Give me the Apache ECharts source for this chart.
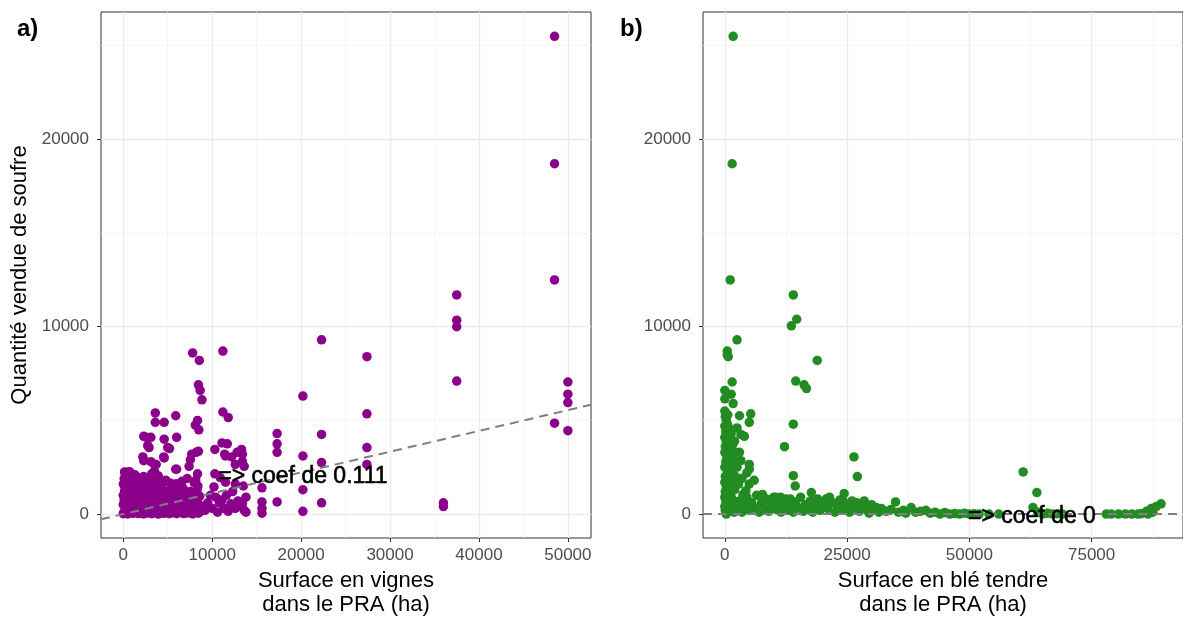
<!DOCTYPE html>
<html>
<head>
<meta charset="utf-8">
<script src="https://cdn.jsdelivr.net/npm/echarts@6/dist/echarts.min.js"></script>
<style>
  html, body { margin: 0; background: #fff; }
  #chart { width: 1183px; height: 622px; }
</style>
</head>
<body>
<div id="chart"></div>
<script>
// ---- data ----
const yTicks = [0, 10000, 20000];
const vigneTicks = [0, 10000, 20000, 30000, 40000, 50000];
const bleTicks = [0, 25000, 50000, 75000];

const yRange = [-1276, 26800];
const vigneRange = [-2505, 52600];
const bleRange = [-4460, 93680];

const vigneCoef = 0.111;
const bleCoef = 0;
const vigneNote = "=> coef de 0.111";
const bleNote = "=> coef de 0";
const vigneNotePos = [20200, 2000];
const bleNotePos = [62800, -150];

// a) surface en vignes vs soufre
const vignesPoints = [
  [48500,25500],[48500,18700],[48500,12500],[48500,4850],
  [37500,11700],[37500,10350],[37500,10000],[37500,7100],
  [50000,7050],[50000,6400],[50000,5950],[50000,4450],
  [36000,600],[36000,400],
  [22300,9300],[22300,4250],[22300,2750],[22300,600],
  [20200,6300],[20200,3100],[20200,1300],[20200,150],
  [27400,8400],[27400,5350],[27400,3550],[27400,2650],
  [17300,4300],[17300,3750],[17300,3300],[17300,650],
  [15600,1400],[15600,650],[15600,300],[15600,50],
  [10300,3450],[11100,3800],[11700,3750],[12800,3300],[13300,3450],[13400,3200],[11400,3200],
  [12200,3050],[13400,2800],[12600,2650],[13600,2550],[11500,3100],[11200,5450],[11800,5150],[11200,8700],
  [9200,200],[9500,600],[9800,1000],[10000,300],[10200,1450],[10400,900],[10600,100],[10800,600],
  [11100,750],[11300,300],[11600,1000],[11800,150],[12100,550],[12300,1200],[12600,300],[12900,700],
  [13200,450],[13400,550],[13600,200],[13800,900],[13800,100],[13500,1500],
  [10300,2150],[10900,1950],[11500,1700],[12600,1600],
  [7800,8600],[8550,8200],[8450,6900],[8650,6600],[8850,6100],
  [3600,5400],[5900,5250],[3600,4900],[4600,4900],[8100,4750],[8350,5000],[8500,4500],
  [2300,4150],[3100,4100],[4600,4000],[6000,4100],[2600,4100],
  [2750,3650],[2900,3550],[5000,3550],[5200,3500],
  [2200,3050],[2300,2850],[3100,2800],[3700,2650],[4550,3050],[4600,3000],[7700,3200],[7550,2900],
  [7400,2550],[8450,3350],[8200,3300],
  [6000,2400],[3500,2300],[3900,2050],[3500,2650],[150,2250],[700,2250],[520,2230],[1650,1900],
  [3300,2150],[8350,2150],[8150,1800],[5900,1600],[5900,2400],
  [0,20],[120,150],[250,60],[380,260],[500,10],[650,180],[800,90],[950,310],[1100,40],[1250,220],
  [1400,120],[1550,350],[1700,30],[1850,200],[2000,100],[2150,280],[2300,10],[2450,170],[2600,330],
  [2750,60],[2900,240],[3050,130],[3200,20],[3350,300],[3500,150],[3650,70],[3800,260],[3950,0],
  [4100,190],[4250,90],[4400,320],[4550,40],[4700,210],[4850,120],[5000,280],[5150,20],[5300,160],
  [5450,60],[5600,250],[5800,110],[6000,20],[6200,200],[6400,80],[6600,300],[6800,30],[7000,170],
  [7200,60],[7400,240],[7600,120],[7800,10],[8000,180],[8200,280],[8450,50],[8700,150],
  [0,500],[100,750],[200,600],[350,850],[500,450],[600,680],[750,550],[900,820],[1050,480],[1200,700],
  [1350,900],[1500,560],[1650,780],[1800,430],[1950,650],[2100,880],[2250,520],[2400,720],[2550,460],
  [2700,840],[2850,600],[3000,760],[3150,420],[3300,650],[3450,900],[3600,540],[3750,720],[3900,450],
  [4050,860],[4200,620],[4350,500],[4500,780],[4700,430],[4900,680],[5100,880],[5300,520],[5500,740],
  [5700,450],[5900,620],[6100,850],[6300,480],[6500,700],[6700,560],[6900,420],[7100,800],[7300,600],
  [7500,470],[7700,720],[7900,520],[8100,850],[8300,620],[8600,480],
  [0,1000],[150,1250],[300,1100],[450,1400],[600,950],[800,1200],[1000,1450],[1150,1050],[1300,1300],
  [1500,1000],[1700,1350],[1900,1150],[2100,1450],[2300,980],[2500,1250],[2700,1100],[2900,1400],
  [3100,1000],[3300,1200],[3500,1480],[3700,1050],[3900,1300],[4100,1150],[4300,1420],[4500,980],
  [4800,1200],[5100,1050],[5400,1350],[5700,1000],[6000,1250],[6300,1100],[6700,1400],[7100,1000],
  [7500,1200],[7900,1050],[8300,1300],[8600,950],
  [0,1600],[100,1900],[200,2200],[400,1750],[600,2050],[700,2250],[900,1600],[1100,1850],[1300,2100],
  [1500,1650],[1700,1950],[2000,1700],[2300,2000],[2600,1600],[2900,1900],[3200,2150],[3600,1700],
  [4000,1950],[4400,1600],[4800,1800],[5300,1650],[6000,1600],[6600,1750],[7200,1900],[8000,1650],[8400,1500]
];

// b) surface en blé tendre vs soufre
const blePoints = [
  [1700,25500],[1500,18700],[1100,12500],[14000,11700],[14700,10400],[13600,10050],[2500,9300],
  [500,8700],[500,8500],[700,8400],[18900,8200],[1500,7050],[14500,7100],[16200,6900],[16700,6700],
  [0,6600],[1300,6400],[0,6150],[1700,5900],[3000,5250],[5300,5350],[5000,4900],[14000,4800],
  [12200,3600],[26400,3050],[27100,2000],[14000,2050],[14400,1500],
  [0,5500],[100,5200],[300,5000],[0,4700],[200,4400],[500,4800],[0,4100],[300,3900],[100,3600],
  [600,4200],[0,3300],[400,3100],[200,2800],[700,3500],[0,2500],[500,2300],[100,2000],[800,2700],
  [0,1700],[300,1500],[600,1900],[100,1200],[900,2200],[0,900],[400,1000],[200,700],[700,1300],
  [0,400],[500,500],[100,200],[300,0],[800,800],[1000,600],[1200,1000],[1100,300],[1300,1600],
  [1500,800],[1400,2400],[1000,2900],[1200,3400],[1000,4000],[800,4600],[600,5300],[1300,4300],
  [1600,3700],[1800,2900],[2000,1300],[1700,500],[2200,2000],[1900,100],
  [3300,4250],[4000,4150],[2500,4600],[2000,3900],[2200,3300],[3000,3300],[3300,2850],[5000,2650],
  [5000,2400],[2500,2500],[3500,1900],[5000,1600],[4300,1250],[3700,1050],[4500,2200],[6000,1800],[2800,1600],
  [2500,300],[3000,700],[3500,100],[4000,500],[4500,900],[5000,200],[5500,600],[6000,350],[6500,1000],
  [7000,100],[7700,1050],[7500,600],[8000,300],[8500,800],[9000,150],[9500,500],[10000,900],[10400,900],
  [10500,250],[11000,600],[11400,900],[11500,100],[12000,450],[12500,800],[13000,200],[13400,800],
  [13500,550],[14000,100],[14500,650],[15000,350],[15500,900],[16000,150],[16500,500],[17000,250],
  [17700,1150],[17500,700],[18000,100],[18500,450],[19000,800],[19500,200],[20000,550],[20700,800],
  [21400,900],[21000,300],[22000,600],[22500,100],[23000,450],[23500,750],[24000,250],[24100,750],
  [24400,1100],[25000,500],[25500,100],[26000,700],[26500,350],[27000,600],[27500,150],[28000,450],
  [28500,700],[29000,250],[29500,50],[30000,500],[30500,200],[31000,350],[31500,100],[32000,300],
  [33000,150],[34000,250],[34900,650],[35500,100],[36500,200],[37000,50],[38100,350],[39000,100],
  [40000,150],[41100,200],[42000,50],[43000,100],[44000,0],[45000,80],[46000,0],[47000,30],[48000,0],
  [49000,50],[50000,0],[51000,20],[52000,0],[54000,0],[56000,0],
  [61000,2250],[63800,1150],[63000,350],[64000,100],[65000,0],[66000,50],[67000,0],[68000,20],[69000,0],
  [78000,0],[79000,0],[80500,0],[81900,0],[83200,0],[84500,0],[85200,20],[86200,150],[87200,300],
  [88200,400],[89200,550],[86500,0],[87500,100]
];

// ---- chart ----
const FONT = '"Liberation Sans", Arial, sans-serif';
const chart = echarts.init(document.getElementById('chart'));

function xAxisCfg(idx, range, ticks, step, title) {
  return {
    type: 'value', gridIndex: idx, min: range[0], max: range[1],
    minInterval: step, maxInterval: step,
    name: title, nameLocation: 'middle', nameGap: 31,
    nameTextStyle: { color: '#000', fontSize: 22, lineHeight: 24, fontFamily: FONT },
    axisLine: { show: false, onZero: false },
    axisTick: { show: true, length: 4, lineStyle: { color: '#333' }, customValues: ticks },
    axisLabel: { color: '#4d4d4d', fontSize: 17, margin: 9, fontFamily: FONT,
      customValues: ticks, formatter: v => String(v) },
    splitLine: { show: true, lineStyle: { color: '#ebebeb', width: 1.4 } },
    minorTick: { show: false, splitNumber: 2 },
    minorSplitLine: { show: true, lineStyle: { color: '#f3f3f3', width: 0.8 } }
  };
}

function yAxisCfg(idx, title) {
  return {
    type: 'value', gridIndex: idx, min: yRange[0], max: yRange[1],
    minInterval: 10000, maxInterval: 10000,
    name: title, nameLocation: 'middle', nameGap: 70,
    nameTextStyle: { color: '#000', fontSize: 22, fontFamily: FONT },
    axisLine: { show: false, onZero: false },
    axisTick: { show: true, length: 4, lineStyle: { color: '#333' }, customValues: yTicks },
    axisLabel: { color: '#4d4d4d', fontSize: 17, margin: 12, fontFamily: FONT,
      customValues: yTicks, formatter: v => String(v) },
    splitLine: { show: true, lineStyle: { color: '#ebebeb', width: 1.4 } },
    minorTick: { show: false, splitNumber: 2 },
    minorSplitLine: { show: true, lineStyle: { color: '#f3f3f3', width: 0.8 } }
  };
}

function fitLine(range, coef) {
  return [[range[0], coef * range[0]], [range[1], coef * range[1]]];
}

function noteSeries(idx, pos, text) {
  return {
    type: 'scatter', xAxisIndex: idx, yAxisIndex: idx, symbolSize: 0,
    itemStyle: { color: 'rgba(0,0,0,0)', opacity: 1 }, z: 10,
    data: [pos],
    label: { show: true, position: 'inside', formatter: text, color: '#000',
      fontSize: 23, fontFamily: FONT, textBorderColor: '#000', textBorderWidth: 0.6 }
  };
}

const option = {
  animation: false,
  backgroundColor: '#fff',
  title: [
    { text: 'a)', left: 12, top: 12, textStyle: { fontSize: 24, fontWeight: 'bold', color: '#000', fontFamily: FONT } },
    { text: 'b)', left: 615, top: 12, textStyle: { fontSize: 24, fontWeight: 'bold', color: '#000', fontFamily: FONT } }
  ],
  grid: [
    { left: 101, top: 12, width: 490, height: 528, show: true, borderColor: '#333', borderWidth: 1 },
    { left: 703, top: 12, width: 489, height: 528, show: true, borderColor: '#333', borderWidth: 1 }
  ],
  xAxis: [
    xAxisCfg(0, vigneRange, vigneTicks, 10000, 'Surface en vignes\ndans le PRA (ha)'),
    xAxisCfg(1, bleRange, bleTicks, 25000, 'Surface en blé tendre\ndans le PRA (ha)')
  ],
  yAxis: [
    yAxisCfg(0, 'Quantité vendue de soufre'),
    yAxisCfg(1, '')
  ],
  series: [
    { type: 'scatter', xAxisIndex: 0, yAxisIndex: 0, symbolSize: 9.5,
      itemStyle: { color: '#8B008B', opacity: 1 }, data: vignesPoints },
    { type: 'line', xAxisIndex: 0, yAxisIndex: 0, symbol: 'none', z: 5,
      lineStyle: { color: '#7f7f7f', width: 2, type: [9, 6] }, data: fitLine(vigneRange, vigneCoef) },
    noteSeries(0, vigneNotePos, vigneNote),
    { type: 'scatter', xAxisIndex: 1, yAxisIndex: 1, symbolSize: 9.5,
      itemStyle: { color: '#228B22', opacity: 1 }, data: blePoints },
    { type: 'line', xAxisIndex: 1, yAxisIndex: 1, symbol: 'none', z: 5,
      lineStyle: { color: '#7f7f7f', width: 2, type: [9, 6] }, data: fitLine(bleRange, bleCoef) },
    noteSeries(1, bleNotePos, bleNote)
  ]
};

chart.setOption(option);
</script>
</body>
</html>
